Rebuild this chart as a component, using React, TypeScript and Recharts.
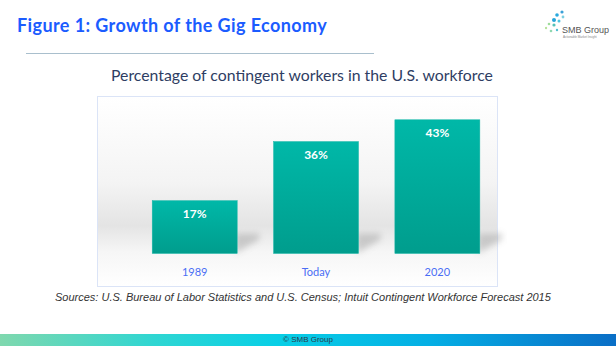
import React from "react";
import { BarChart, Bar, XAxis, YAxis, LabelList } from "recharts";

const categories = ["1989", "Today", "2020"];
const shares = [17, 36, 43];
const yTicks = [0, 10, 20, 30, 40, 50];

const data = categories.map((c, i) => ({ period: c, share: shares[i] }));

const FONT = "Lato, 'Open Sans', sans-serif";

function ShadowBar(props: any) {
  const { x, y, width, height } = props;
  const bx = x + width;
  const by = y + height;
  return (
    <g>
      <polygon
        points={`${bx - 2},${by} ${bx + 22},${by - 14} ${bx + 22},${by - 20} ${bx - 2},${by - 20}`}
        fill="#9a9a9a"
        opacity={0.45}
        filter="url(#blurShadow)"
      />
      <rect x={x} y={y} width={width} height={height} fill="url(#barFill)" stroke="#1ab8a8" strokeWidth={0.5} />
    </g>
  );
}

function Logo() {
  const dots = [
    [17, 6, 1.6, "#3aa0d8"],
    [12, 9, 1.8, "#29a9df"],
    [18, 11, 1.4, "#7ccfe0"],
    [9, 14, 2, "#28a4d9"],
    [14, 15, 1.5, "#4cc3e0"],
    [4, 18, 1.3, "#9edc9a"],
    [9, 19, 1.6, "#55c2b8"],
    [1, 22, 1.2, "#b5e39a"],
    [6, 25, 1.3, "#8fd8b0"],
    [12, 24, 1.2, "#4fbfd0"],
  ];
  return (
    <svg width={70} height={40} style={{ position: "absolute", left: 545, top: 6 }}>
      {dots.map((d, i) => (
        <circle key={i} cx={d[0] as number} cy={d[1] as number} r={d[2] as number} fill={d[3] as string} />
      ))}
      <text x={17} y={27} fontFamily="'Liberation Sans', Arial, sans-serif" fontSize={9} fill="#555">
        SMB Group
      </text>
      <text x={18} y={32} fontFamily="'Liberation Sans', Arial, sans-serif" fontSize={3} fill="#888">
        Actionable Market Insight
      </text>
    </svg>
  );
}

export default function App() {
  return (
    <div
      style={{
        position: "absolute",
        left: 0,
        top: 0,
        width: 616,
        height: 346,
        overflow: "hidden",
        background: "#ffffff",
        fontFamily: FONT,
      }}
    >
      <div
        style={{
          position: "absolute",
          left: 17,
          top: 14,
          fontSize: 18,
          letterSpacing: 0.4,
          fontWeight: 700,
          color: "#1b5cff",
          whiteSpace: "nowrap",
        }}
      >
        Figure 1: Growth of the Gig Economy
      </div>
      <div style={{ position: "absolute", left: 26, top: 53, width: 348, height: 1, background: "#a9bfcd" }} />
      <Logo />
      <div
        style={{
          position: "absolute",
          left: 111,
          top: 65,
          fontSize: 15.8,
          color: "#2e3d63",
          whiteSpace: "nowrap",
        }}
      >
        Percentage of contingent workers in the U.S. workforce
      </div>
      <div
        style={{
          position: "absolute",
          left: 97,
          top: 96,
          width: 399,
          height: 189,
          border: "1px solid #dbe4f7",
          background: "linear-gradient(to bottom, #ffffff 0%, #f4f4f4 45%, #e4e4e4 68%, #f6f6f6 82%, #ffffff 100%)",
        }}
      />
      <div style={{ position: "absolute", left: 97, top: 96 }}>
        <BarChart
          width={410}
          height={190}
          data={data}
          margin={{ top: 2, right: 9, bottom: 2.5, left: 37 }}
          barCategoryGap="15%"
        >
          <defs>
            <linearGradient id="barFill" x1="0" y1="0" x2="0" y2="1">
              <stop offset="0%" stopColor="#00b8a8" />
              <stop offset="100%" stopColor="#009d8d" />
            </linearGradient>
            <filter id="blurShadow" x="-50%" y="-50%" width="200%" height="200%">
              <feGaussianBlur stdDeviation="3" />
            </filter>
          </defs>
          <XAxis
            dataKey="period"
            axisLine={false}
            tickLine={false}
            tickMargin={9}
            tick={{ fill: "#4a6ef5", fontSize: 11, fontFamily: FONT }}
            height={30}
          />
          <YAxis hide domain={[0, 50]} ticks={yTicks} />
          <Bar dataKey="share" isAnimationActive={false} shape={<ShadowBar />}>
            <LabelList
              dataKey="share"
              position="insideTop"
              offset={9}
              formatter={(v: any) => `${v}%`}
              style={{ fill: "#ffffff", fontSize: 12, fontWeight: 700, fontFamily: FONT }}
            />
          </Bar>
        </BarChart>
      </div>
      <div
        style={{
          position: "absolute",
          left: 55,
          top: 291,
          fontSize: 11,
          fontStyle: "italic",
          color: "#333333",
          fontFamily: "'Liberation Sans', Arial, sans-serif",
          whiteSpace: "nowrap",
        }}
      >
        Sources: U.S. Bureau of Labor Statistics and U.S. Census; Intuit Contingent Workforce Forecast 2015
      </div>
      <div
        style={{
          position: "absolute",
          left: 0,
          top: 334,
          width: 616,
          height: 12,
          background: "linear-gradient(to right, #7fd8ae 0%, #2fd6d2 25%, #08cfe6 45%, #04aee4 70%, #0a6ec6 100%)",
          textAlign: "center",
          fontSize: 8,
          lineHeight: "12px",
          color: "#2a3a4a",
          fontFamily: "'Liberation Sans', Arial, sans-serif",
        }}
      >
        © SMB Group
      </div>
    </div>
  );
}
